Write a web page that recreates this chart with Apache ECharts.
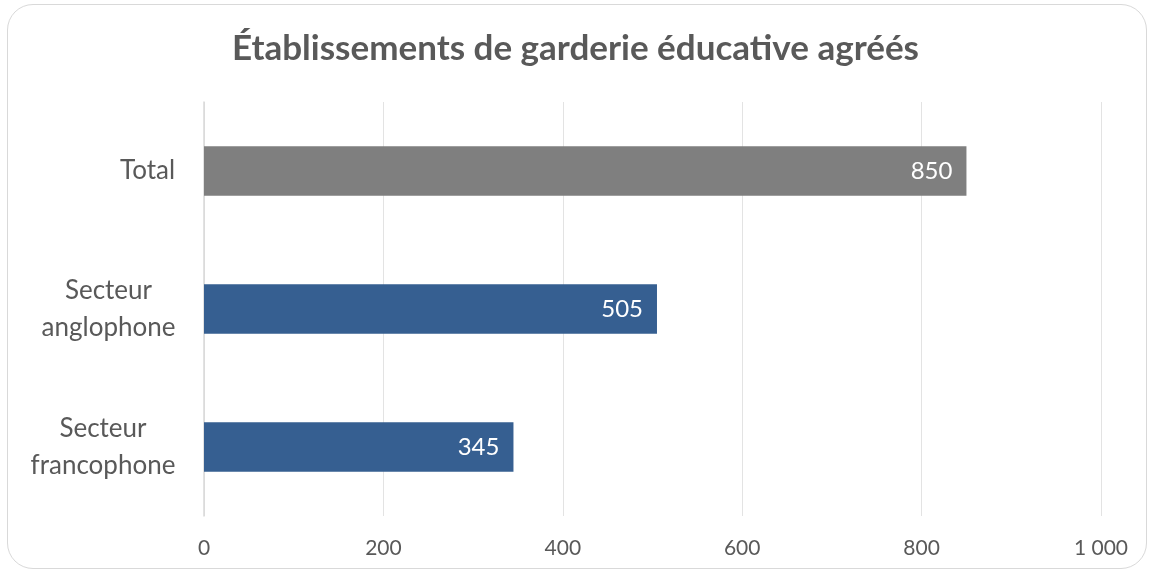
<!DOCTYPE html>
<html>
<head>
<meta charset="utf-8">
<script src="https://cdn.jsdelivr.net/npm/echarts@6/dist/echarts.min.js"></script>
<style>
  html, body { margin: 0; padding: 0; background: #fff; }
  #frame {
    position: absolute; left: 7px; top: 4px; width: 1140px; height: 565px;
    border: 1.5px solid #d9d9d9; border-radius: 26px; box-sizing: border-box;
  }
  #chart { position: absolute; left: 0; top: 0; width: 1151px; height: 573px; }
</style>
</head>
<body>
<div id="frame"></div>
<div id="chart"></div>
<script>
// data, bottom to top
const categories = ['Secteur\nfrancophone', 'Secteur\nanglophone', 'Total']
const values = [345, 505, 850]
const barColors = ['#365f91', '#365f91', '#7f7f7f']
const xTicks = [0, 200, 400, 600, 800, 1000]

const font = 'Lato, "Open Sans", sans-serif'
const catSize = 26

// lines of a two-line label are centred on each other, block right-aligned
const ctx = document.createElement('canvas').getContext('2d')
ctx.font = catSize + 'px ' + font
const rich = {}
categories.forEach((c, i) => {
  const w = Math.max(...c.split('\n').map(s => ctx.measureText(s).width))
  rich['c' + i] = { width: Math.ceil(w) + 1, align: 'center', fontSize: catSize, lineHeight: 37, color: '#595959', fontFamily: font }
})

const chart = echarts.init(document.getElementById('chart'))

chart.setOption({
  animation: false,
  textStyle: { fontFamily: font },
  title: {
    text: 'Établissements de garderie éducative agréés',
    left: 'center',
    top: 26,
    textStyle: { fontSize: 35, fontWeight: 'bold', color: '#595959', fontFamily: font }
  },
  grid: { left: 204, right: 50, top: 102, bottom: 57 },
  xAxis: {
    type: 'value',
    min: 0,
    max: 1000,
    interval: 200,
    axisLine: { show: false },
    axisTick: { show: false },
    splitLine: { lineStyle: { color: '#e3e3e3', width: 1 } },
    axisLabel: {
      color: '#595959',
      fontSize: 21,
      margin: 22,
      formatter: v => xTicks.includes(v) ? String(v).replace(/\B(?=(\d{3})+(?!\d))/g, ' ') : ''
    }
  },
  yAxis: {
    type: 'category',
    data: categories,
    axisLine: { lineStyle: { color: '#d9d9d9', width: 1.5 } },
    axisTick: { show: false },
    axisLabel: {
      margin: 28,
      rich: rich,
      formatter: (v, i) => v.split('\n').map(s => '{c' + i + '|' + s + '}').join('\n')
    }
  },
  series: [{
    type: 'bar',
    data: values.map((v, i) => ({ value: v, itemStyle: { color: barColors[i] } })),
    barWidth: '36%',
    label: {
      show: true,
      position: 'insideRight',
      color: '#fff',
      fontSize: 24,
      distance: 14
    }
  }]
})
</script>
</body>
</html>
